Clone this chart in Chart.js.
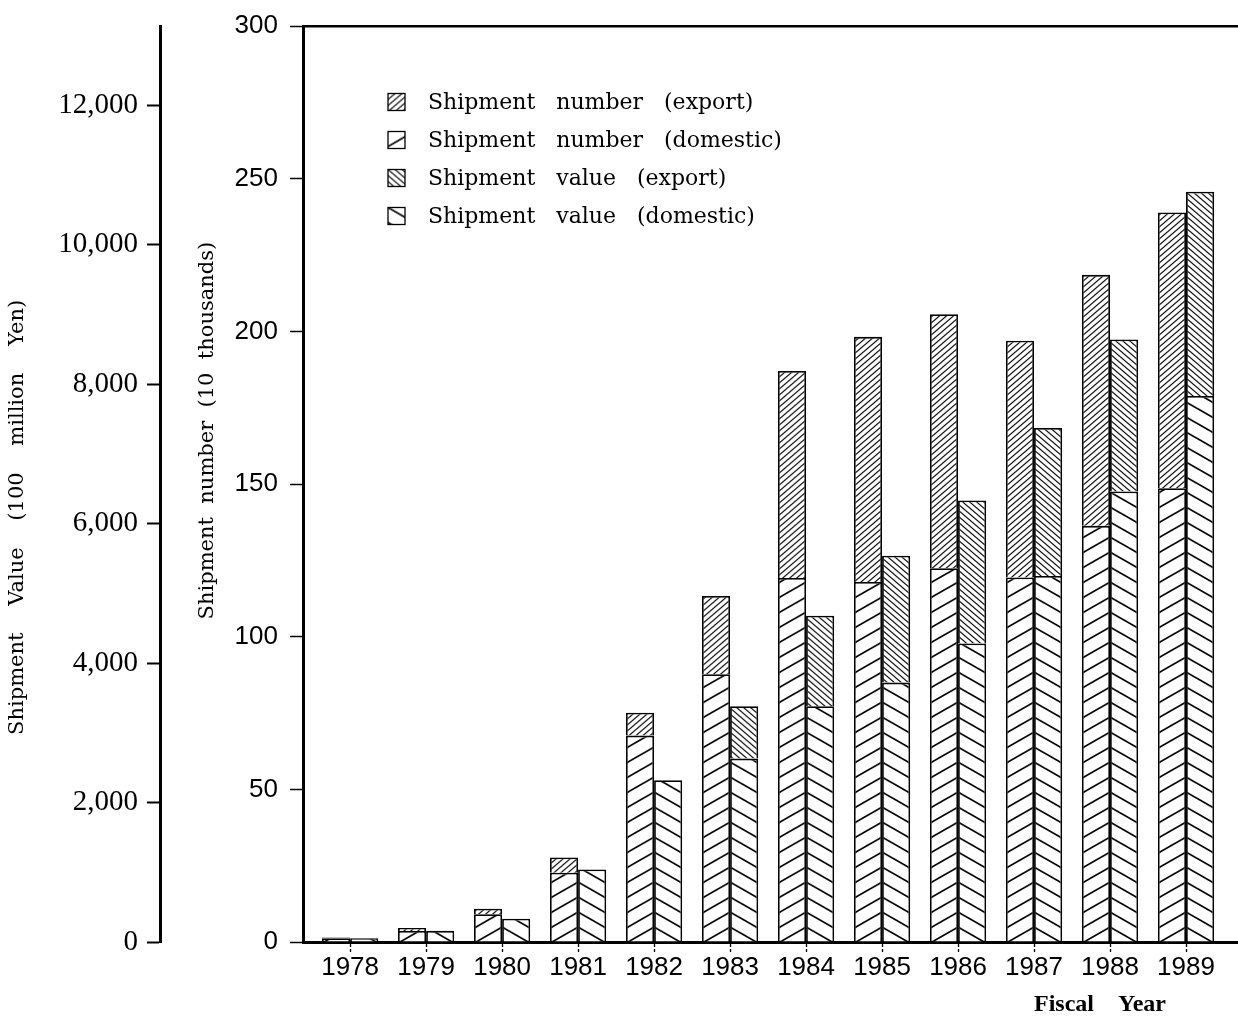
<!DOCTYPE html>
<html>
<head>
<meta charset="utf-8">
<script src="https://cdn.jsdelivr.net/npm/chart.js@4.4.1/dist/chart.umd.min.js"></script>
<style>
  html, body { margin: 0; padding: 0; background: #fff; }
  canvas { display: block; }
</style>
</head>
<body>
<canvas id="chart" width="1238" height="1035"></canvas>
<script>
// Fiscal years on the horizontal axis
const years = [1978, 1979, 1980, 1981, 1982, 1983, 1984, 1985, 1986, 1987, 1988, 1989];

// Shipment number, in units of 10 thousand
const numberDomestic = [1.2, 3.6, 9.1, 22.7, 67.6, 87.7, 119.2, 117.9, 122.4, 119.4, 136.3, 148.6];
const numberExport   = [0.3, 1.0, 1.8, 5.0, 7.5, 25.6, 67.8, 80.3, 83.2, 77.5, 82.2, 90.3];

// Shipment value, in units of 100 million yen
const valueDomestic = [55, 160, 335, 1040, 2320, 2630, 3380, 3720, 4280, 5250, 6460, 7830];
const valueExport   = [0, 0, 0, 0, 0, 750, 1300, 1820, 2050, 2120, 2180, 2930];

// Axis tick values
const numberTicks = [0, 50, 100, 150, 200, 250, 300];
const valueTicks  = [0, 2000, 4000, 6000, 8000, 10000, 12000];

// Series names
const seriesLabels = {
  numberExport: 'Shipment number (export)',
  numberDomestic: 'Shipment number (domestic)',
  valueExport: 'Shipment value (export)',
  valueDomestic: 'Shipment value (domestic)'
};

// Hatch styles: dir 1 = "/" lines, dir -1 = "\" lines
const HATCH = {
  numberExport:   { dir: 1,  gap: 6,  run: 7,  width: 1.1 },
  numberDomestic: { dir: 1,  gap: 15, run: 26, width: 1.6 },
  valueExport:    { dir: -1, gap: 6,  run: 7,  width: 1.1 },
  valueDomestic:  { dir: -1, gap: 15, run: 26, width: 1.6 }
};

function hatchPattern(ctx, kind, ox, oy) {
  const h = HATCH[kind];
  const tile = document.createElement('canvas');
  tile.width = h.run;
  tile.height = h.gap;
  const t = tile.getContext('2d');
  t.fillStyle = '#fff';
  t.fillRect(0, 0, h.run, h.gap);
  t.strokeStyle = '#000';
  t.lineWidth = h.width;
  const s = h.gap / h.run;
  for (let m = -2; m <= 3; m++) {
    t.beginPath();
    if (h.dir > 0) {
      t.moveTo(-h.run, s * h.run + m * h.gap);
      t.lineTo(2 * h.run, -2 * s * h.run + m * h.gap);
    } else {
      t.moveTo(-h.run, -s * h.run + m * h.gap);
      t.lineTo(2 * h.run, 2 * s * h.run + m * h.gap);
    }
    t.stroke();
  }
  const p = ctx.createPattern(tile, 'repeat');
  p.setTransform(new DOMMatrix([1, 0, 0, 1, ox || 0, oy || 0]));
  return p;
}

// Each pair of bars shares one hatch origin at the year's centre line,
// so the "/" and "\" strokes meet as chevrons.
function barFill(kind) {
  return (c) => {
    const chart = c.chart;
    const xs = chart.scales.x;
    if (c.type !== 'data' || !xs || !chart.chartArea) {
      return hatchPattern(chart.ctx, kind, 0, 0);
    }
    const cx = xs.getPixelForValue(years[c.dataIndex]);
    return hatchPattern(chart.ctx, kind, cx, chart.chartArea.bottom);
  };
}

const insetLegend = {
  id: 'insetLegend',
  afterDatasetsDraw(chart, args, opts) {
    const ctx = chart.ctx;
    ctx.save();
    ctx.font = opts.font;
    ctx.textBaseline = 'middle';
    ctx.textAlign = 'left';
    opts.items.forEach((kind, row) => {
      const y = opts.top + row * opts.rowGap;
      const x = opts.left;
      const b = opts.box;
      ctx.fillStyle = hatchPattern(ctx, kind, x, y - b / 2);
      ctx.fillRect(x, y - b / 2, b, b);
      ctx.lineWidth = 1.3;
      ctx.strokeStyle = '#000';
      ctx.strokeRect(x, y - b / 2, b, b);
      ctx.fillStyle = '#000';
      ctx.fillText(seriesLabels[kind].split(' ').join(opts.wordGap), opts.textLeft, y + 1);
    });
    ctx.restore();
  }
};

const spaced = (text, gap) => text.split(' ').join(' '.repeat(gap));

const sansFont = "'Liberation Sans', Arial, sans-serif";
const serifFont = "'Liberation Serif', 'DejaVu Serif', serif";
const titleFont = "'DejaVu Serif', 'Liberation Serif', serif";

const barBase = {
  borderColor: '#000',
  borderWidth: 1.8,
  borderSkipped: 'start',
  categoryPercentage: 0.74,
  barPercentage: 1.0,
  xAxisID: 'x'
};

new Chart(document.getElementById('chart'), {
  type: 'bar',
  data: {
    labels: years,
    datasets: [
      { ...barBase, label: seriesLabels.numberDomestic, data: numberDomestic, stack: 'number', yAxisID: 'yN', backgroundColor: barFill('numberDomestic') },
      { ...barBase, label: seriesLabels.numberExport, data: numberExport, stack: 'number', yAxisID: 'yN', backgroundColor: barFill('numberExport') },
      { ...barBase, label: seriesLabels.valueDomestic, data: valueDomestic, stack: 'value', yAxisID: 'yV', backgroundColor: barFill('valueDomestic') },
      { ...barBase, label: seriesLabels.valueExport, data: valueExport, stack: 'value', yAxisID: 'yV', backgroundColor: barFill('valueExport') }
    ]
  },
  plugins: [insetLegend],
  options: {
    responsive: false,
    animation: false,
    devicePixelRatio: 1,
    locale: 'en-US',
    layout: { padding: { top: 26, left: 0, right: 0, bottom: 0 } },
    plugins: {
      legend: { display: false },
      tooltip: { enabled: false },
      insetLegend: {
        items: ['numberExport', 'numberDomestic', 'valueExport', 'valueDomestic'],
        left: 388, textLeft: 428, top: 102, rowGap: 38, box: 17,
        font: "22px 'DejaVu Serif', serif",
        wordGap: '   '
      }
    },
    scales: {
      x: {
        type: 'linear',
        position: 'bottom',
        offset: false,
        min: years[0] - 0.62,
        max: years[years.length - 1] + 0.684,
        afterBuildTicks: (s) => { s.ticks = years.map((v) => ({ value: v })); },
        afterFit: (s) => { s.height = 93; },
        ticks: {
          callback: (v) => String(v),
          color: '#000',
          padding: 1,
          autoSkip: false,
          maxRotation: 0,
          font: { family: sansFont, size: 26, lineHeight: 1 }
        },
        grid: { offset: false, drawOnChartArea: false, drawTicks: true, tickLength: 12, tickColor: '#000', tickWidth: 1.3, tickBorderDash: [3, 2] },
        border: { display: true, color: '#000', width: 3 },
        title: {
          display: true,
          text: spaced('Fiscal Year', 4) + ' '.repeat(12),
          align: 'end',
          color: '#000',
          font: { family: serifFont, size: 24, weight: 'bold' },
          padding: { top: 0, bottom: 15.6 }
        }
      },
      xTop: {
        type: 'linear',
        position: 'top',
        afterFit: (s) => { s.height = 0; },
        ticks: { display: false },
        grid: { display: false, drawTicks: false },
        border: { display: true, color: '#000', width: 2.5 }
      },
      yN: {
        type: 'linear',
        position: 'left',
        weight: 0,
        stacked: true,
        min: 0,
        max: 300,
        afterBuildTicks: (s) => { s.ticks = numberTicks.map((v) => ({ value: v })); },
        afterFit: (s) => { s.width = 143; },
        ticks: {
          color: '#000',
          padding: 12,
          font: { family: sansFont, size: 26, lineHeight: 1 }
        },
        grid: { drawOnChartArea: false, tickLength: 13, tickColor: '#000', tickWidth: 1.5 },
        border: { display: true, color: '#000', width: 3 },
        title: {
          display: true,
          text: ' '.repeat(16) + spaced('Shipment number (10 thousands)', 2),
          color: '#000',
          font: { family: titleFont, size: 21 },
          padding: { top: 35, bottom: 0 }
        }
      },
      yV: {
        type: 'linear',
        position: 'left',
        weight: 1,
        stacked: true,
        min: 0,
        max: 13135,
        afterBuildTicks: (s) => { s.ticks = valueTicks.map((v) => ({ value: v })); },
        afterFit: (s) => { s.width = 160; },
        ticks: {
          color: '#000',
          padding: 9,
          font: { family: serifFont, size: 29, lineHeight: 1 }
        },
        grid: { drawOnChartArea: false, tickLength: 13, tickColor: '#000', tickWidth: 2 },
        border: { display: true, color: '#000', width: 3 },
        title: {
          display: true,
          text: spaced('Shipment Value (100 million Yen)', 4) + ' '.repeat(10),
          color: '#000',
          font: { family: titleFont, size: 21 },
          padding: { top: 5, bottom: 0 }
        }
      }
    }
  }
});
</script>
</body>
</html>
